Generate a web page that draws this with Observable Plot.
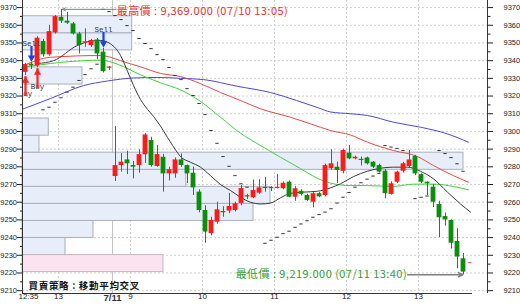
<!DOCTYPE html>
<html><head><meta charset="utf-8">
<script src="https://cdn.jsdelivr.net/npm/d3@7"></script>
<script src="https://cdn.jsdelivr.net/npm/@observablehq/plot@0.6"></script>
<style>
html,body{margin:0;padding:0;background:#fff;}
#chart svg{display:block;}
</style></head><body><div id="chart"></div>
<script>
// ---------- categories: 5-minute bars (bar end times) ----------
const day1 = "07/10", day2 = "07/11";
const day1Times = ["12:35","12:40","12:45","12:50","12:55","13:00","13:05","13:10","13:15","13:20","13:25","13:30","13:35","13:40","13:45"];
const day2Times = ["08:50","08:55","09:00","09:05","09:10","09:15","09:20","09:25","09:30","09:35","09:40","09:45","09:50","09:55",
  "10:00","10:05","10:10","10:15","10:20","10:25","10:30","10:35","10:40","10:45","10:50","10:55",
  "11:00","11:05","11:10","11:15","11:20","11:25","11:30","11:35","11:40","11:45","11:50","11:55",
  "12:00","12:05","12:10","12:15","12:20","12:25","12:30","12:35","12:40","12:45","12:50","12:55",
  "13:00","13:05","13:10","13:15","13:20","13:25","13:30","13:35","13:40"];

// ---------- OHLC ----------
const opens = [9333.4,9338,9337,9350.8,9343.3,9355.7,9364.5,9362.3,9360.8,9355.1,9350,9348.5,9351.7,9344.8,9335.8,
  9274.5,9280.7,9283.9,9280.7,9280.7,9286.8,9294.9,9280.2,9285.4,9276,
  9276,9283.9,9280.7,9276.4,9265.7,9255.3,9242.2,9248.7,9254.6,9255,
  9255.3,9259.3,9263.6,9262.5,9265.1,9268.3,9268.3,9267.8,9267.6,9271.3,
  9262.8,9266.2,9263.8,9260,9264.8,9263.8,9278.9,9279.8,9277.5,9287.7,
  9284.5,9284.1,9285,9282.6,9280.7,9277.5,9264.4,9271.3,9277.5,9280.2,
  9285.8,9275.6,9271.3,9268.5,9258.7,9251.9,9249.7,9237.8,9228];
const closes = [9337.8,9337,9352.7,9343.3,9356.4,9364.9,9362.3,9361.2,9355.1,9348.5,9350.6,9351.4,9343.8,9333.8,9336.3,
  9280.7,9282.6,9281.7,9279.8,9286.9,9298,9280.7,9286.9,9276,9278.3,
  9283.9,9280.7,9276,9268.1,9255.3,9243.1,9249.7,9255.7,9254.2,9257.6,
  9259.1,9267.7,9263,9266.6,9268.1,9267.8,9267.8,9268.4,9270.7,9262.8,
  9267.6,9264.4,9261,9264.8,9263,9280.7,9281.7,9277.9,9289.2,9284.5,
  9285.4,9283.7,9281.7,9279.8,9277,9264.8,9270.4,9277,9281.7,9283.9,
  9276,9271.3,9270.4,9260,9251.2,9250,9236.8,9229,9220.5];
const highs = [9338.5,9339,9353.5,9352,9360,9365.5,9369,9367.3,9361.5,9356,9358,9352,9352.5,9347,9336.8,
  9302.8,9287.5,9288.8,9283,9289.6,9298.8,9296.7,9292,9287,9279.8,
  9285,9287.3,9281,9279.8,9267,9258,9251.5,9260,9257.5,9265,
  9260,9269.4,9264.5,9272.5,9272.7,9274.1,9268.8,9275.6,9271.5,9272,
  9269,9267,9264.5,9265.5,9265.5,9281.5,9289.6,9282.6,9290,9292,
  9286,9285.5,9285.5,9283,9281.5,9278.5,9271.5,9277.5,9282.5,9289.2,
  9286.5,9276,9271.5,9270,9260.5,9254,9250,9245,9231];
const lows = [9331.5,9335,9336,9342,9342.5,9355,9361,9360.5,9354.5,9343.8,9347.5,9347.5,9340.5,9333,9334.5,
  9271.7,9277,9275.6,9273.2,9276.4,9281.9,9279.8,9279.8,9265.7,9272,
  9273.5,9279.8,9270.5,9263.8,9254,9236.8,9241,9247.5,9251.5,9253.5,
  9254.5,9258,9261.5,9262,9264.5,9265.7,9266,9267.5,9267,9262.5,
  9260.5,9263.5,9260.5,9256.8,9262.5,9263,9278,9270.5,9276,9284,
  9284,9280.5,9281,9279,9276.5,9261.9,9264,9270.5,9276.5,9279.5,
  9275,9270.5,9263.8,9257,9240,9246.5,9233.5,9222.4,9219];

// ---------- parabolic SAR (one per bar, null = not drawn) ----------
const sarValues = [null,null,null,9312.2,9313.7,9316.5,9319,9322.2,9325,9328.8,9332.1,9335.4,9338,9369,9367.7,
  9365.5,9363.2,9359.8,9357,9352.5,9349.7,9346.8,9343.4,9340.6,9336.1,
  9331.6,9329.3,9324.2,9320.3,9315.8,9309.5,9300.5,9293.3,9285.8,9280.3,
  9275,9270.4,9268.5,null,null,9236.8,9238.5,9240.2,9242.2,9243.6,
  9245.8,9247.7,9249.5,9251.5,9253,9254.4,9256.3,9259.5,9262.8,9265.5,
  9268.5,9271,9273,9274.8,9276.3,9292,9291.2,9290.4,9289.2,null,
  9262,9262.8,9263.5,null,9289.2,9287.5,9285.2,9281.7,9277.5];
const lastMarkValue = 9225.8;

// ---------- moving averages (time slot, value) ----------
const maBlackX = [2.5,5.2,9.1,11.33,13,14.67,16.33,17.5,18.5,19.67,20.83,21.83,23,24.17,25.83,26.33,28,29.67,31.33,33,34.67,36.33,38,39.67,41.33,43,44.67,46.83,49.17,51.33,53,55.17,57.5,59.67,61.83,64.17,66.33,68.5,70.83,73,74.67];
const maBlackV = [9338.4,9340,9348.5,9351,9351.4,9349.5,9343,9334,9326,9318,9312.5,9308.5,9303,9296.6,9288,9285.8,9282.6,9279.8,9275,9270,9266.6,9262.8,9260,9259,9259.5,9262.5,9265,9265.7,9266.2,9268.1,9270.4,9274.5,9277.5,9279.2,9279.8,9279.8,9277.5,9273.2,9265.7,9259,9254.4];
const maGreenX = [0.17,4.67,10.17,13,15.83,19.67,23,26.33,29.67,33,36.33,39.67,43,46.33,49.17,51.33,54.67,57.5,61.83,65.17,68.5,71.83,74.33];
const maGreenV = [9336.3,9338.4,9340,9340.3,9338,9332,9327.5,9323.5,9317,9308,9299,9292,9285.4,9279,9273.5,9270.8,9269.4,9269.4,9268.9,9270.2,9270.2,9268.9,9267];
const maRedX = [0.17,4.67,13,14.67,16.33,19.67,23,26.33,29.67,33,36.33,39.67,44.67,48,51.33,54.67,57.5,61.83,65.83,68.5,71.83,74.33];
const maRedV = [9337.2,9341.9,9342.9,9341.9,9340,9336.5,9332.8,9331,9327,9322,9317.5,9312.8,9308,9304.3,9300.5,9298,9293.9,9289.2,9285.8,9280.7,9275,9271.3];
const maBlueX = [0.17,4.67,10.17,14.17,18.5,22.5,26.33,30.17,35.83,41.33,45.67,49.33,51.33,54.67,57.5,61.83,66.33,70.83,74.33];
const maBlueV = [9312.8,9318.6,9325.9,9328.5,9330.2,9330.5,9330,9329.3,9325.5,9322,9317.5,9313.3,9311,9310,9309,9305.2,9302.4,9298.6,9293.9];

// ---------- volume-at-price boxes ----------
const binEdges = [9220.5,9230.1,9239.8,9249.4,9259.1,9268.7,9278.3,9288.0,9297.6,9307.3,9316.9,9326.5,9336.2,9345.8,9355.5,9365.1];
const binVolume = [23.5,7.17,11.83,38.5,41.33,27.3,73.5,2.83,4.38,0,0,10,0,18.28,18.28];

// ---------- signals ----------
const signalBars = [0,1,2,13];
const signalTypes = ["Buy","Sell","Buy","Sell"];

// ---------- axes ----------
const yTicks = [9210,9220,9230,9240,9250,9260,9270,9280,9290,9300,9310,9320,9330,9340,9350,9360,9370];
const yMinor = [9215,9225,9235,9245,9255,9265,9275,9285,9295,9305,9315,9325,9335,9345,9355,9365];
const xTickDays = [day1,day1,day2,day2,day2,day2,day2,day2];
const xTickTimes = ["12:35","13:00","08:45","09:00","10:00","11:00","12:00","13:00"];
const xTickLabels = ["12:35","13","7/11","9","10","11","12","13"];
const strategyText = "買賣策略 : 移動平均交叉";

// ---------- build ----------
function slotOf(day, t) {
  const [h, m] = t.split(":").map(Number), mins = h * 60 + m;
  return day === day1 ? (mins - (12 * 60 + 30)) / 5 : 15 + (mins - (8 * 60 + 45)) / 5;
}
const times = day1Times.map(t => ({day: day1, t})).concat(day2Times.map(t => ({day: day2, t})));
const bars = times.map((b, i) => {
  const o = opens[i], c = closes[i];
  let top = Math.max(o, c), bot = Math.min(o, c);
  if (top - bot < 0.7) { const m = (top + bot) / 2; top = m + 0.35; bot = m - 0.35; }
  return {...b, i, x: slotOf(b.day, b.t) - 0.5, o, c, h: highs[i], l: lows[i], top, bot, up: c >= o, sar: sarValues[i]};
});
const RED = "#ff1a1a", GREEN = "#0b8f0b";
const upBars = bars.filter(d => d.up), dnBars = bars.filter(d => !d.up);
const sarData = bars.filter(d => d.sar != null);
const lastBar = bars[bars.length - 1];

const bins = binVolume.map((v, k) => ({lo: binEdges[k], hi: binEdges[k + 1], ext: v,
  cur: lastBar.c >= binEdges[k] && lastBar.c < binEdges[k + 1]})).filter(d => d.ext > 0);

const mk = (xs, vs) => xs.map((x, k) => ({x, v: vs[k]}));
const maLines = [
  {data: mk(maBlueX, maBlueV), color: "#4a4ad6"},
  {data: mk(maRedX, maRedV), color: "#e44a44"},
  {data: mk(maGreenX, maGreenV), color: "#3fd13f"},
  {data: mk(maBlackX, maBlackV), color: "#3a3a3a"}
];

const sigs = signalBars.map((i, k) => {
  const b = bars[i], buy = signalTypes[k] === "Buy";
  const tip = buy ? b.l - 0.5 : b.h + 0.5;
  return {x: b.x, tip, tail: buy ? tip - 8.5 : tip + 8.5, buy, type: signalTypes[k]};
});
const buys = sigs.filter(s => s.buy), sells = sigs.filter(s => !s.buy);

const hiBar = bars.reduce((a, b) => b.h > a.h ? b : a);
const loBar = bars.reduce((a, b) => b.l < a.l ? b : a);
const fmt = d3.format(",.3f");
const hiText = `最高價 : ${fmt(hiBar.h)} (${hiBar.day} ${hiBar.t})`;
const loText = `最低價 : ${fmt(loBar.l)} (${loBar.day} ${loBar.t})`;

const xTicks = xTickLabels.map((label, k) => ({label, x: slotOf(xTickDays[k], xTickTimes[k]), day: xTickTimes[k] === "08:45"}));
const hourLines = xTicks.filter(d => !d.day && d.label !== "12:35").map(d => d.x);
const dayLines = xTicks.filter(d => d.day).map(d => d.x);

const XMAX = 77.5, XAXIS_END = 75;
const yDom = [9208.4, 9374];
const CJK = "'Noto Sans CJK TC','Noto Sans CJK SC',sans-serif";
const MONO = "'Liberation Mono','DejaVu Sans Mono',monospace";
const SANS = "'Liberation Sans',Arial,sans-serif";

const chart = Plot.plot({
  width: 520, height: 305,
  marginLeft: 22, marginRight: 33, marginTop: 0, marginBottom: 12,
  style: {fontFamily: SANS, fontSize: "8px", background: "#fff", color: "#222"},
  x: {domain: [0, XMAX], axis: null},
  y: {domain: yDom},
  marks: [
    Plot.ruleY(yTicks, {stroke: "#cfcfcf", strokeDasharray: "2,2"}),
    Plot.ruleX(hourLines, {stroke: "#cfcfcf", strokeDasharray: "2,2"}),
    Plot.ruleX(dayLines, {stroke: "#c4c4c4"}),
    Plot.rect(bins.filter(d => !d.cur), {x1: 0, x2: "ext", y1: "lo", y2: "hi", fill: "#e7eefa", stroke: "#aab0bc", strokeWidth: 1}),
    Plot.rect(bins.filter(d => d.cur), {x1: 0, x2: "ext", y1: "lo", y2: "hi", fill: "#fce3f0", stroke: "#cdb2c2", strokeWidth: 1}),
    ...maLines.map(l => Plot.line(l.data, {x: "x", y: "v", stroke: l.color, strokeWidth: 1, curve: "monotone-x"})),
    Plot.ruleY(sarData, {y: "sar", x1: d => d.x - 0.28, x2: d => d.x + 0.28, stroke: "#333", strokeWidth: 1}),
    Plot.ruleY([{x: lastBar.x + 1.1, v: lastMarkValue}], {y: "v", x1: d => d.x - 0.3, x2: d => d.x + 0.3, stroke: "#ff5050", strokeWidth: 1}),
    Plot.ruleX(upBars, {x: "x", y1: "l", y2: "h", stroke: RED, strokeWidth: 1}),
    Plot.ruleX(dnBars, {x: "x", y1: "l", y2: "h", stroke: GREEN, strokeWidth: 1}),
    Plot.rect(upBars, {x1: d => d.x - 0.4, x2: d => d.x + 0.4, y1: "bot", y2: "top", fill: RED}),
    Plot.rect(dnBars, {x1: d => d.x - 0.4, x2: d => d.x + 0.4, y1: "bot", y2: "top", fill: GREEN}),
    // signals
    Plot.text(buys, {x: "x", y: "tip", dy: 17.5, text: "type", fontFamily: MONO, fontSize: 7.5, fill: "#333", clip: true}),
    Plot.text(sells, {x: "x", y: "tip", dy: -17.5, text: "type", fontFamily: MONO, fontSize: 7.5, fill: "#333", clip: true}),
    Plot.ruleX(buys, {x: "x", y1: "tail", y2: "tip", insetTop: 5, stroke: "#ff2020", strokeWidth: 2.2}),
    Plot.dot(buys, {x: "x", y: "tip", dy: 4, symbol: "triangle", r: 2.7, fill: "#ff2020", stroke: "none"}),
    Plot.ruleX(sells, {x: "x", y1: "tail", y2: "tip", insetBottom: 5, stroke: "#1a3ee8", strokeWidth: 2.2}),
    Plot.dot(sells, {x: "x", y: "tip", dy: -4, symbol: "triangle", rotate: 180, r: 2.7, fill: "#1a3ee8", stroke: "none"}),
    // high / low annotations
    Plot.arrow([hiBar], {x1: d => d.x + 9.1, y1: "h", x2: d => d.x + 0.15, y2: "h", stroke: "#808080", strokeWidth: 1, headLength: 5, headAngle: 50}),
    Plot.text([hiBar], {x: d => d.x + 9.2, y: "h", dy: 2, text: () => hiText, textAnchor: "start", fontFamily: CJK, fontSize: 11, fill: "#e8322e"}),
    Plot.arrow([loBar], {x1: d => d.x - 9.3, y1: "l", x2: d => d.x - 0.1, y2: "l", stroke: "#808080", strokeWidth: 1.5, headLength: 5, headAngle: 50}),
    Plot.text([loBar], {x: d => d.x - 9.4, y: "l", dy: 0, text: () => loText, textAnchor: "end", fontFamily: CJK, fontSize: 11, fill: "#33a033"}),
    // axes
    Plot.axisY({anchor: "left", ticks: yTicks, tickSize: 5, tickPadding: 0.5, tickFormat: d => String(d), fontSize: 7.5, fontFamily: SANS, color: "#222"}),
    Plot.axisY({anchor: "left", ticks: yMinor, tickSize: 2, tickFormat: () => "", color: "#222"}),
    Plot.axisY({anchor: "right", ticks: yTicks, tickSize: 5, tickPadding: 11, tickFormat: d => String(d), fontSize: 7.5, fontFamily: SANS, color: "#222"}),
    Plot.axisY({anchor: "right", ticks: yMinor, tickSize: 2.5, tickFormat: () => "", color: "#222"}),
    Plot.ruleX([0], {stroke: "#333"}),
    Plot.ruleX([XMAX], {stroke: "#333"}),
    Plot.ruleY([yDom[0]], {x1: 0, x2: XAXIS_END, stroke: "#333"}),
    Plot.text(xTicks.filter(d => !d.day), {x: "x", frameAnchor: "bottom", dy: 5.5, text: "label", fontSize: 8, fontFamily: SANS, fill: "#222"}),
    Plot.text(xTicks.filter(d => d.day), {x: "x", frameAnchor: "bottom", dy: 7, text: "label", fontSize: 9.5, fontWeight: "bold", fontFamily: SANS, fill: "#333"}),
    Plot.text([strategyText], {frameAnchor: "bottom-left", dx: 6, dy: -5, text: d => d, textAnchor: "start", fontFamily: CJK, fontSize: 9.5, fontWeight: "bold", fill: "#111"})
  ]
});
// widen annotation text spacing to match the reference's half-width font
chart.querySelectorAll("text").forEach(t => {
  const s = t.textContent;
  if (s === hiText || s === loText) t.setAttribute("letter-spacing", "0.45");
  else if (s === strategyText) t.setAttribute("letter-spacing", "0.7");
});
document.getElementById("chart").append(chart);
</script>
</body></html>
